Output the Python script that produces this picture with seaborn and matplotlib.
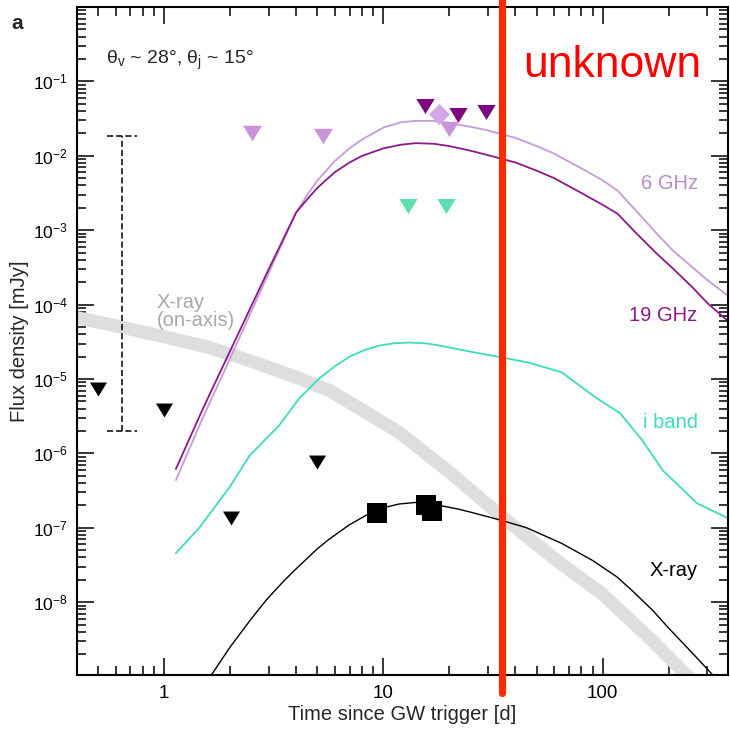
import numpy as np
import pandas as pd
import matplotlib
matplotlib.use("Agg")
import matplotlib.pyplot as plt
import seaborn as sns

# ---------------- model light curves (days, flux density in mJy) ----------------
days_6ghz = [1.13, 1.5, 2, 3, 4, 4.5, 5, 6, 7, 8, 10, 12, 14, 17, 20, 25, 30, 40, 50, 60,
             80, 100, 117, 140, 177, 210, 257, 300, 372]
flux_6ghz = [4.37e-7, 3.02e-6, 1.91e-5, 2.69e-4, 1.74e-3, 3.02e-3, 4.68e-3, 8.51e-3, 1.26e-2,
             1.66e-2, 2.40e-2, 2.82e-2, 2.95e-2, 2.95e-2, 2.75e-2, 2.45e-2, 2.19e-2, 1.74e-2,
             1.35e-2, 1.07e-2, 6.76e-3, 4.68e-3, 3.39e-3, 1.91e-3, 8.91e-4, 5.25e-4, 3.16e-4,
             2.14e-4, 1.32e-4]

days_19ghz = [1.13, 1.5, 2, 3, 4, 4.5, 5, 6, 7, 8, 10, 12, 14, 17, 20, 25, 30, 40, 50, 60,
              80, 100, 117, 140, 177, 210, 257, 300, 372]
flux_19ghz = [6.17e-7, 3.98e-6, 2.40e-5, 3.02e-4, 1.74e-3, 2.63e-3, 3.72e-3, 6.03e-3, 8.13e-3,
              1.00e-2, 1.26e-2, 1.41e-2, 1.48e-2, 1.45e-2, 1.35e-2, 1.17e-2, 1.02e-2, 8.13e-3,
              6.31e-3, 5.01e-3, 3.16e-3, 2.19e-3, 1.66e-3, 9.55e-4, 4.79e-4, 3.02e-4, 1.70e-4,
              1.05e-4, 6.03e-5]

days_iband = [1.13, 1.445, 1.98, 2.45, 3.35, 4.13, 5.1, 6.0, 7.0, 8.2, 9.6, 11.2, 13.1, 15.5,
              18, 24.7, 34.6, 46, 65, 93, 120, 152, 188, 269, 372]
flux_iband = [4.57e-8, 1.0e-7, 3.47e-7, 9.33e-7, 2.40e-6, 5.50e-6, 1.02e-5, 1.48e-5, 2.00e-5,
              2.45e-5, 2.82e-5, 3.02e-5, 3.09e-5, 3.02e-5, 2.82e-5, 2.34e-5, 1.95e-5, 1.66e-5,
              1.23e-5, 5.62e-6, 3.47e-6, 1.48e-6, 5.89e-7, 2.14e-7, 1.35e-7]

days_xray = [1.5, 1.64, 2.0, 2.5, 2.92, 3.5, 4, 5, 5.67, 7, 8.6, 10, 11.8, 14, 16, 18, 22, 25,
             34.5, 45, 65, 90, 116, 137, 169, 200, 250, 318, 372]
flux_xray = [5.0e-10, 1.05e-9, 2.51e-9, 6.03e-9, 1.07e-8, 1.91e-8, 2.82e-8, 5.25e-8, 7.08e-8,
             1.10e-7, 1.55e-7, 1.86e-7, 2.09e-7, 2.19e-7, 2.14e-7, 2.00e-7, 1.78e-7, 1.62e-7,
             1.26e-7, 1.0e-7, 6.17e-8, 3.63e-8, 2.19e-8, 1.41e-8, 7.76e-9, 4.47e-9, 2.24e-9,
             1.05e-9, 5.0e-10]

days_onaxis = [0.397, 0.623, 1.0, 1.605, 2.45, 4.13, 5.67, 7.8, 11.8, 20, 34.1, 64.4, 98.6,
               167, 241, 372]
flux_onaxis = [6.7e-5, 5.07e-5, 3.7e-5, 2.65e-5, 1.77e-5, 1.02e-5, 7.0e-6, 4.0e-6, 1.91e-6,
               5.6e-7, 1.47e-7, 3.3e-8, 1.32e-8, 3.1e-9, 1.05e-9, 3.0e-10]

# ---------------- observations ----------------
xray_ul_days = [0.5, 1.0, 2.02, 5.0]
xray_ul_flux = [7.4e-6, 3.8e-6, 1.35e-7, 7.6e-7]

xray_det_days = [9.3, 15.7, 16.6]
xray_det_flux = [1.6e-7, 2.0e-7, 1.7e-7]

ghz19_ul_days = [15.4, 21.8, 29.2]
ghz19_ul_flux = [0.047, 0.035, 0.039]

ghz6_ul_days = [2.52, 5.3, 20.0]
ghz6_ul_flux = [0.020, 0.0186, 0.023]

ghz6_det_days = [18.0]
ghz6_det_flux = [0.036]

iband_ul_days = [12.9, 19.2]
iband_ul_flux = [2.1e-3, 2.1e-3]

# range bar
range_day = 0.64
range_lo, range_hi = 2.0e-6, 1.86e-2

# epoch marker
epoch_day = 34.6

# ---------------- styling ----------------
c6 = "#c79ad8"
c6_mark = "#c994dc"
c19 = "#8a1a8a"
c19_mark = "#7a0a7e"
ci = "#3ddcbf"
ci_mark = "#5ce0b0"
cgrey = "#dedede"

sns.set_theme(style="ticks")
plt.rcParams["font.family"] = ["Liberation Sans", "DejaVu Sans"]
plt.rcParams["mathtext.fontset"] = "custom"
plt.rcParams["mathtext.rm"] = "Liberation Sans"
plt.rcParams["mathtext.it"] = "Liberation Sans:italic"
plt.rcParams["mathtext.bf"] = "Liberation Sans:bold"

fig = plt.figure(figsize=(7.30, 7.31), dpi=100)
ax = fig.add_axes([0.1055, 0.0766, 0.8915, 0.9138])
ax.set_xscale("log")
ax.set_yscale("log")

# downward triangle, wider than tall
tri = [(-1, 0.82), (1, 0.82), (0, -0.82)]

def curve(days, flux, color, lw, **kw):
    df = pd.DataFrame({"t": days, "f": flux})
    sns.lineplot(data=df, x="t", y="f", ax=ax, color=color, lw=lw,
                 estimator=None, sort=False, **kw)

curve(days_onaxis, flux_onaxis, cgrey, 9.5, solid_capstyle="butt", zorder=1)
curve(days_6ghz, flux_6ghz, c6, 1.3, zorder=2)
curve(days_19ghz, flux_19ghz, c19, 1.3, zorder=2)
curve(days_iband, flux_iband, ci, 1.3, zorder=2)
curve(days_xray, flux_xray, "black", 1.0, zorder=2)

def pts(days, flux, color, marker, s, z=4):
    sns.scatterplot(x=days, y=flux, ax=ax, color=color, marker=marker, s=s,
                    linewidth=0, zorder=z)

pts(xray_ul_days, xray_ul_flux, "black", tri, 150)
pts(xray_det_days, xray_det_flux, "black", "s", 190)
pts(ghz19_ul_days, ghz19_ul_flux, c19_mark, tri, 175)
pts(ghz6_det_days, ghz6_det_flux, "#d4a6e6", "D", 115, z=5)
pts(ghz6_ul_days, ghz6_ul_flux, c6_mark, tri, 185)
pts(iband_ul_days, iband_ul_flux, ci_mark, tri, 175)

# dashed range bar
ax.vlines(range_day, range_lo, range_hi, colors="black", linestyles=(0, (4, 2)), lw=1.1)
ax.hlines([range_lo, range_hi], range_day / 1.17, range_day * 1.17, colors="black",
          linestyles=(0, (4, 2)), lw=1.1)

# red epoch line running past the frame
ax.axvline(epoch_day, ymin=-0.027, ymax=1.02, color="#ff2a00", lw=5.2, clip_on=False,
           zorder=10)

ax.set_xlim(0.4, 372)
ax.set_ylim(1.05e-9, 1.0)

# ticks on all four sides, pointing inward
ax.tick_params(which="both", direction="in", top=True, right=True, width=1.1,
               colors="black", labelsize=13.5, pad=7)
ax.tick_params(axis="y", labelsize=12.5, pad=6.5)
ax.tick_params(which="major", length=12)
ax.tick_params(which="minor", length=6.5)
ax.yaxis.set_major_locator(matplotlib.ticker.LogLocator(base=10, numticks=20))
ax.yaxis.set_minor_locator(matplotlib.ticker.LogLocator(base=10, subs=np.arange(2, 10) * 1.0,
                                                         numticks=50))
ax.yaxis.set_minor_formatter(matplotlib.ticker.NullFormatter())
ax.xaxis.set_major_formatter(matplotlib.ticker.FuncFormatter(lambda v, p: f"{v:g}"))
ax.xaxis.set_minor_formatter(matplotlib.ticker.NullFormatter())
ax.set_yticks([1e-8, 1e-7, 1e-6, 1e-5, 1e-4, 1e-3, 1e-2, 1e-1])
for sp in ax.spines.values():
    sp.set_linewidth(1.5)
    sp.set_color("black")

ax.set_xlabel("Time since GW trigger [d]", fontsize=14.5, labelpad=2)
ax.set_ylabel("Flux density [mJy]", fontsize=14.5)
ax.yaxis.set_label_coords(-0.074, 0.5)

# curve labels
tk = dict(transform=ax.transData, fontsize=14.5, ha="right", va="center")
ax.text(271, 4.2e-3, "6 GHz", color="#b98bc9", **tk)
ax.text(271, 7.1e-5, "19 GHz", color=c19, **tk)
ax.text(271, 2.6e-6, "i band", color=ci, **tk)
ax.text(271, 2.7e-8, "X-ray", color="black", **tk)
ax.text(0.92, 8.1e-5, "X-ray\n(on-axis)", color="#a8a8a8", fontsize=14.5, ha="left",
        va="center", linespacing=0.95)

ax.text(0.045, 0.92, r"θ$_{\mathrm{v}}$ ~ 28°, θ$_{\mathrm{j}}$ ~ 15°",
        transform=ax.transAxes, fontsize=14, ha="left", va="center")
ax.text(0.685, 0.895, "unknown", transform=ax.transAxes, color="red", fontsize=32,
        ha="left", va="baseline")

fig.text(0.016, 0.968, "a", fontsize=15, fontweight="bold", ha="left", va="center")

fig.savefig("out.png", dpi=100)
